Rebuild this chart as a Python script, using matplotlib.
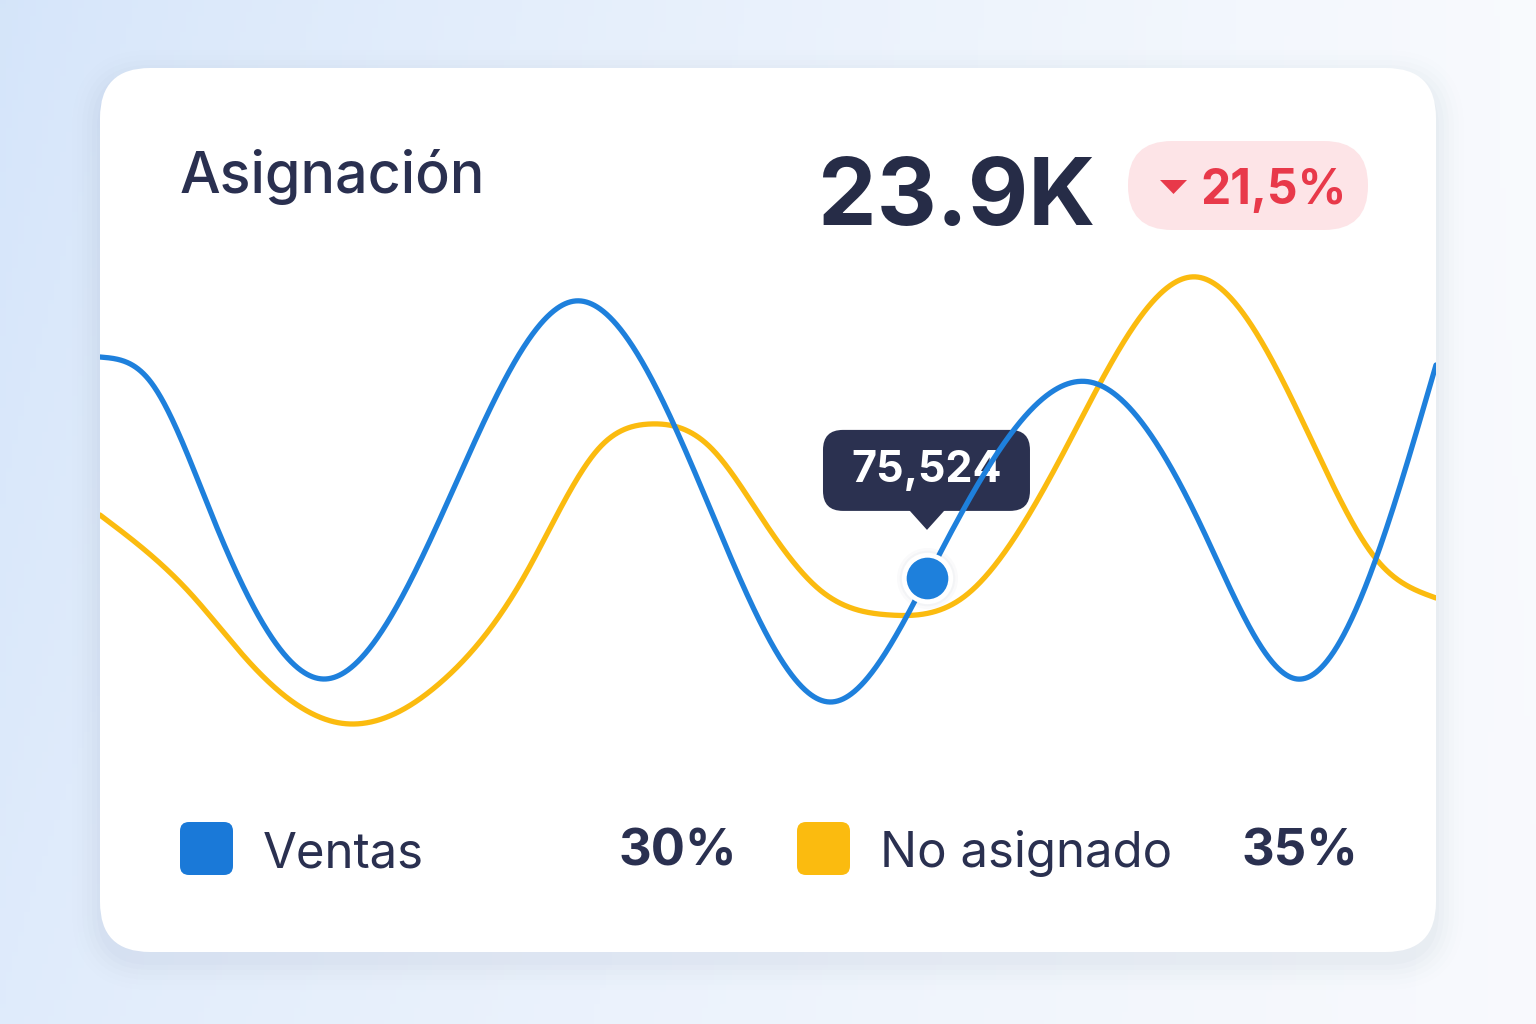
import numpy as np
import matplotlib
matplotlib.use("Agg")
import matplotlib.pyplot as plt
from matplotlib.patches import FancyBboxPatch, Polygon

plt.rcParams['font.family'] = ['Inter', 'DejaVu Sans']

# ---------------- data ----------------
title = "Asignación"
kpi_value = "23.9K"
kpi_change = "21,5%"
tooltip_label = "75,524"
series_names = ["Ventas", "No asignado"]
series_shares = ["30%", "35%"]

ventas_x = [0, 3.74, 8.46, 16.69, 26.42, 35.55, 45.43, 54.64, 61.90, 74.10, 82.56, 89.60, 100]
ventas_y = [130.75, 124.75, 90.5, 50.25, 97.5, 144.75, 94.75, 44.5, 75.524, 124.5, 87.5, 50.25, 128.75]

noasig_x = [0, 6.74, 11.23, 17.96, 25.45, 31.81, 37.43, 41.17, 45.66, 49.63, 53.89, 59.13,
            64.75, 72.38, 82.11, 90.57, 95.58, 100]
noasig_y = [91.25, 71.75, 54.25, 39.25, 49.25, 76.25, 108.25, 114.0, 108.25, 90.0, 72.5, 66.25,
            71.0, 108.5, 150.75, 110.75, 80.0, 70.5]

highlight_index = 8  # point of ventas with tooltip

# ---------------- styles ----------------
BLUE = "#1e80dc"
YELLOW = "#fbbb0f"
NAVY = "#262c47"
TEXT = "#2a3050"
RED = "#e8394a"
PINK = "#fde4e7"


def natural_spline(x, y, xs):
    x = np.asarray(x, float); y = np.asarray(y, float)
    n = len(x); h = np.diff(x)
    A = np.zeros((n, n)); r = np.zeros(n)
    A[0, 0] = 1; A[-1, -1] = 1
    for i in range(1, n - 1):
        A[i, i - 1] = h[i - 1]; A[i, i] = 2 * (h[i - 1] + h[i]); A[i, i + 1] = h[i]
        r[i] = 6 * ((y[i + 1] - y[i]) / h[i] - (y[i] - y[i - 1]) / h[i - 1])
    M = np.linalg.solve(A, r)
    idx = np.clip(np.searchsorted(x, xs) - 1, 0, n - 2)
    x0 = x[idx]; x1 = x[idx + 1]; hh = h[idx]
    a = (x1 - xs) / hh; b = (xs - x0) / hh
    return (a * y[idx] + b * y[idx + 1]
            + ((a**3 - a) * M[idx] + (b**3 - b) * M[idx + 1]) * hh**2 / 6)


W, H = 1536, 1024
fig = plt.figure(figsize=(W / 100, H / 100), dpi=100)

# background gradient
bg = fig.add_axes([0, 0, 1, 1])
bg.set_xlim(0, W); bg.set_ylim(H, 0); bg.axis('off')
c_tl = np.array([0.835, 0.898, 0.980]); c_tr = np.array([0.975, 0.982, 0.995])
c_bl = np.array([0.875, 0.922, 0.985]); c_br = np.array([0.975, 0.980, 0.993])
u = np.linspace(0, 1, 256)[None, :, None]; v = np.linspace(0, 1, 256)[:, None, None]
uu = u ** 0.8
grad = (1 - uu) * (1 - v) * c_tl + uu * (1 - v) * c_tr + (1 - uu) * v * c_bl + uu * v * c_br
bg.imshow(grad, extent=[0, W, H, 0], aspect='auto', zorder=0)

# card shadow + card
for i, a in enumerate([0.022, 0.018, 0.014, 0.010, 0.007, 0.004]):
    g = 3 + i * 5
    bg.add_patch(FancyBboxPatch((100 - g, 68 - g + 10), 1336 + 2 * g, 884 + 2 * g,
                                boxstyle=f"round,pad=0,rounding_size={50 + g}",
                                fc="#6a7aa0", ec="none", alpha=a, zorder=1))
bg.add_patch(FancyBboxPatch((100, 68), 1336, 884, boxstyle="round,pad=0,rounding_size=50",
                            fc="white", ec="none", zorder=2))

# header
bg.text(180, 193, title, fontsize=41.3, fontweight='medium', color=TEXT, ha='left', va='baseline', zorder=5)
bg.text(1095, 225, kpi_value, fontsize=67, fontweight='bold', color=NAVY,
        ha='right', va='baseline', zorder=5)
bg.add_patch(FancyBboxPatch((1128, 141), 240, 89, boxstyle="round,pad=0,rounding_size=44",
                            fc=PINK, ec="none", zorder=4))
bg.add_patch(Polygon([[1160, 180], [1187, 180], [1173.5, 194]], closed=True, fc=RED, ec="none", zorder=5))
bg.text(1347, 204, kpi_change, fontsize=34.5, fontweight='bold', color=RED,
        ha='right', va='baseline', zorder=5)

# chart axes
ax = fig.add_axes([100 / W, 1 - 760 / H, 1336 / W, 520 / H])
ax.set_xlim(0, 100); ax.set_ylim(30, 160); ax.axis('off')
ax.patch.set_alpha(0)
xs = np.linspace(0, 100, 2000)
ax.plot(xs, natural_spline(noasig_x, noasig_y, xs), color=YELLOW, lw=3.8, solid_capstyle='round', zorder=3)
ax.plot(xs, natural_spline(ventas_x, ventas_y, xs), color=BLUE, lw=3.8, solid_capstyle='round', zorder=4)

hx, hy = ventas_x[highlight_index], ventas_y[highlight_index]
for r, a in [(22, 0.025), (20, 0.03), (18, 0.04)]:
    ax.plot([hx], [hy], 'o', ms=r * 2, color="#3a4a70", alpha=a, mec='none', zorder=5)
ax.plot([hx], [hy], 'o', ms=37, color='white', mec='none', zorder=6)
ax.plot([hx], [hy], 'o', ms=30, color=BLUE, mec='none', zorder=7)

# tooltip placed relative to the highlighted point
fig.canvas.draw()
px, py = ax.transData.transform((hx, hy))
tx, ty = px, H - py  # in bg pixel coords
tip_y = ty - 48
box_h, box_w = 81, 207
bg.add_patch(FancyBboxPatch((tx - 104, tip_y - 19 - box_h), box_w, box_h,
                            boxstyle="round,pad=0,rounding_size=20", fc="#2b3150", ec="none", zorder=8))
bg.add_patch(Polygon([[tx - 18, tip_y - 20], [tx + 18, tip_y - 20], [tx, tip_y]], closed=True,
                     fc="#2b3150", ec="none", zorder=8))
bg.text(tx, tip_y - 19 - box_h / 2, tooltip_label, fontsize=31, fontweight='bold', color='white',
        ha='center', va='center', zorder=9)

# legend
sw_x = [180, 797]
name_x = [263, 880]
share_x = [737, 1358]
colors = ["#1a79d8", YELLOW]
for i in range(2):
    bg.add_patch(FancyBboxPatch((sw_x[i], 822), 53, 53, boxstyle="round,pad=0,rounding_size=9",
                                fc=colors[i], ec="none", zorder=5))
    bg.text(name_x[i], 867, series_names[i], fontsize=35.4, color=TEXT, ha='left', va='baseline', zorder=5)
    bg.text(share_x[i], 865, series_shares[i], fontsize=36.5, fontweight='bold', color=TEXT,
            ha='right', va='baseline', zorder=5)

fig.savefig("out.png", dpi=100)
